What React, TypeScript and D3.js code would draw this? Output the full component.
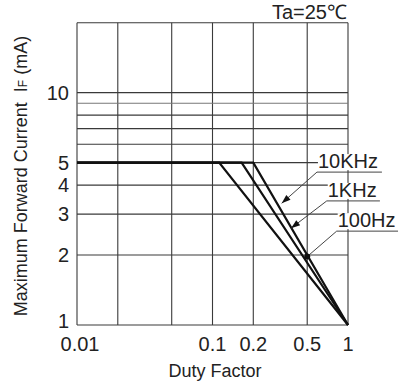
import React from "react";
import * as d3 from "d3";

// Duty factor axis (log) and forward current axis (log)
const xDomain = [0.01, 1];
const yDomain = [1, 20];
const xGrid = [0.01, 0.02, 0.05, 0.1, 0.2, 0.5, 1];
const xTicks = [0.01, 0.1, 0.2, 0.5, 1];
const xTickLabels = ["0.01", "0.1", "0.2", "0.5", "1"];
const yGrid = [1, 2, 3, 4, 5, 6, 7, 8, 9, 10, 20];
const yTicks = [1, 2, 3, 4, 5, 10];

// Derating curves: flat at IF max up to the knee duty, then down to (1, 1)
const freqLabels = ["100Hz", "1KHz", "10KHz"];
const kneeDuty = [0.112, 0.164, 0.2];
const maxCurrent = 5;
const endPoint = [1, 1];

// Callouts: arrow tip (duty, mA), elbow (duty, mA), underline end duty
const calloutLabels = ["10KHz", "1KHz", "100Hz"];
const calloutTip = [[0.324, 3.34], [0.38, 2.61], [0.5, 1.97]];
const calloutElbow = [[0.59, 4.55], [0.697, 3.42], [0.825, 2.535]];
const calloutEnd = [1.78, 1.72, 2.34];
const calloutMarker = ["arrow", "arrow", "dot"];

const W = 401;
const H = 389;
const FONT = "'Liberation Sans', Arial, Helvetica, sans-serif";

export default function App() {
  const x = d3.scaleLog().domain(xDomain).range([77, 348]);
  const y = d3.scaleLog().domain(yDomain).range([325, 22.7]);

  const line = d3
    .line<number[]>()
    .x((d) => x(d[0]))
    .y((d) => y(d[1]));

  const curves = kneeDuty.map((k) => [
    [xDomain[0], maxCurrent],
    [k, maxCurrent],
    endPoint,
  ]);

  const gridColor = "#3a3a3a";

  return (
    <svg
      width={W}
      height={H}
      style={{ position: "absolute", left: 0, top: 0, background: "#fff" }}
      fontFamily={FONT}
    >
      {/* grid */}
      {xGrid.map((v) => (
        <line
          key={"gx" + v}
          x1={x(v)}
          x2={x(v)}
          y1={y(yDomain[0])}
          y2={y(yDomain[1])}
          stroke={gridColor}
          strokeWidth={1.1}
        />
      ))}
      {yGrid.map((v) => (
        <line
          key={"gy" + v}
          x1={x(xDomain[0])}
          x2={x(xDomain[1])}
          y1={y(v)}
          y2={y(v)}
          stroke={v === 9 ? "#777" : gridColor}
          strokeWidth={1.1}
        />
      ))}

      {/* curves */}
      {curves.map((c, i) => (
        <path
          key={"c" + i}
          d={line(c) || ""}
          fill="none"
          stroke="#111"
          strokeWidth={2.2}
          strokeLinejoin="miter"
        />
      ))}

      {/* callouts */}
      {calloutLabels.map((lab, i) => {
        const [tx, ty] = [x(calloutTip[i][0]), y(calloutTip[i][1])];
        const [ex, ey] = [x(calloutElbow[i][0]), y(calloutElbow[i][1])];
        const endX = x(calloutEnd[i]);
        const ang = Math.atan2(ty - ey, tx - ex);
        const L = 9;
        const hw = 3.2;
        const bx = tx - L * Math.cos(ang);
        const by = ty - L * Math.sin(ang);
        const px = -Math.sin(ang);
        const py = Math.cos(ang);
        const head = `M${tx},${ty}L${bx + hw * px},${by + hw * py}L${bx - hw * px},${by - hw * py}Z`;
        return (
          <g key={"co" + i}>
            <rect x={ex + 1} y={ey - 18} width={endX - ex - 1} height={16} fill="#fff" />
            <text x={ex + 1} y={ey - 4} fontSize={20} fill="#222">
              {lab}
            </text>
            <line x1={ex} y1={ey} x2={endX} y2={ey} stroke="#444" strokeWidth={1} />
            <line x1={ex} y1={ey} x2={tx} y2={ty} stroke="#444" strokeWidth={1} />
            {calloutMarker[i] === "arrow" ? (
              <path d={head} fill="#111" />
            ) : (
              <circle cx={tx} cy={ty} r={3} fill="#111" />
            )}
          </g>
        );
      })}

      {/* x tick labels */}
      {xTicks.map((v, i) => (
        <text
          key={"xt" + v}
          x={x(v) + (i === 0 ? 3 : 0)}
          y={351}
          textAnchor="middle"
          fontSize={20}
          fill="#222"
        >
          {xTickLabels[i]}
        </text>
      ))}

      {/* y tick labels (the bottom one sits a little above its line) */}
      {yTicks.map((v, i) => (
        <text
          key={"yt" + v}
          x={69}
          y={y(v) - (i === 0 ? 4 : 0)}
          dy="0.35em"
          textAnchor="end"
          fontSize={20}
          fill="#222"
        >
          {v}
        </text>
      ))}

      {/* axis titles */}
      <text x={215} y={377} textAnchor="middle" fontSize={18} fill="#222">
        Duty Factor
      </text>
      <text
        transform={`translate(27,${176}) rotate(-90)`}
        textAnchor="middle"
        fontSize={18}
        fill="#222"
      >
        Maximum Forward Current{"\u00a0\u00a0"}I
        <tspan fontSize={12}>F</tspan>
        {"\u00a0"}(mA)
      </text>

      {/* condition */}
      <text x={347} y={19} textAnchor="end" fontSize={20} fill="#222">
        Ta=25℃
      </text>
    </svg>
  );
}
